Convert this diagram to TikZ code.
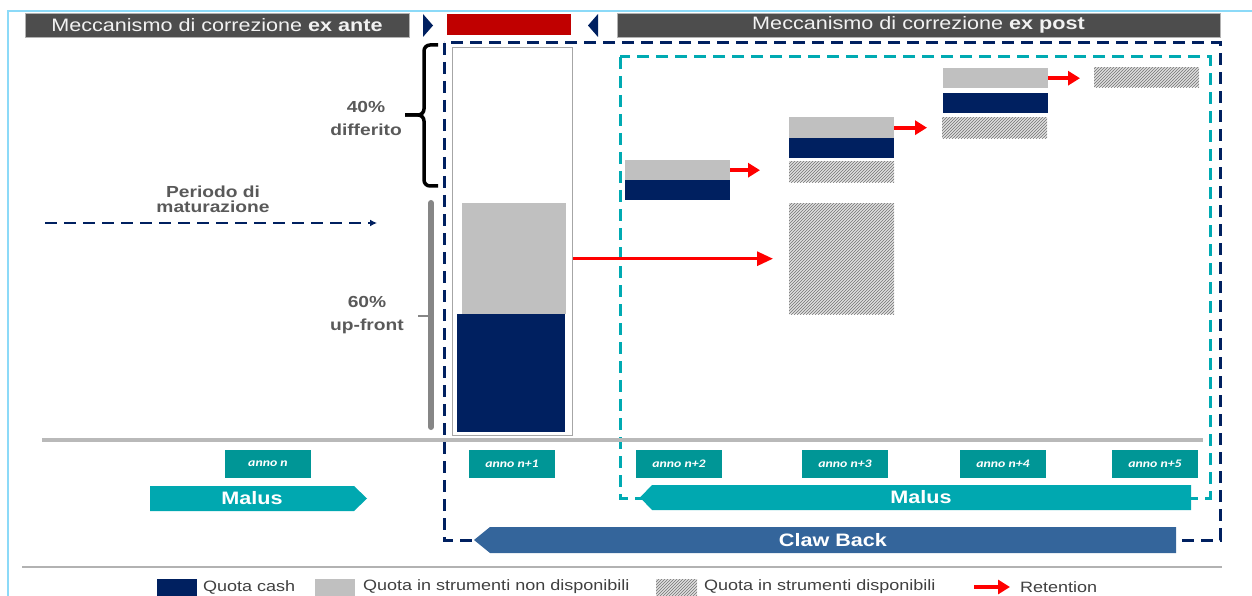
\documentclass[tikz,border=0pt]{standalone}
\usepackage{fontspec}
\setmainfont{Liberation Sans}[FakeStretch=1.2]
\newfontfamily\annofont{Carlito}[FakeStretch=1.2]
\usetikzlibrary{arrows.meta,patterns}

\definecolor{blunotte}{RGB}{0,32,96}
\definecolor{grigioq}{RGB}{192,192,192}
\definecolor{grigiotestata}{RGB}{77,77,77}
\definecolor{rosso}{RGB}{192,0,0}
\definecolor{ciano}{RGB}{0,170,178}
\definecolor{malusfill}{RGB}{0,168,176}
\definecolor{verdeanno}{RGB}{0,150,150}
\definecolor{clawfill}{RGB}{52,101,155}
\definecolor{testo}{RGB}{89,89,89}

\tikzset{
  testata/.style={fill=grigiotestata, draw=gray!60, text=white!95!black, inner sep=0pt,
    minimum height=24pt, font=\fontsize{18}{20}\selectfont},
  blocco/.style={rectangle, inner sep=0pt, anchor=north west, minimum width=105pt, minimum height=20pt},
  cash/.style={blocco, fill=blunotte},
  nondisp/.style={blocco, fill=grigioq},
  disp/.style={blocco, fill=gray!25, postaction={pattern=north east lines, pattern color=black!55}},
  retention/.style={draw=red, line width=4pt, -{Triangle[length=12pt,width=14pt]}},
  anno/.style={fill=verdeanno, text=white, inner sep=0pt, minimum width=86pt, minimum height=28pt,
    font=\annofont\bfseries\itshape\fontsize{11.5}{13}\selectfont},
  etichetta/.style={text=testo, font=\bfseries\fontsize{16}{23}\selectfont, align=center},
  banda/.style={text=white, font=\bfseries\fontsize{18}{20}\selectfont},
  legenda/.style={text=black!75, font=\fontsize{15}{17}\selectfont, anchor=west, inner sep=0pt},
  cornice/.style={line width=3pt, dash pattern=on 12pt off 7pt}
}

\begin{document}
\begin{tikzpicture}[x=1pt, y=-1pt]
  \useasboundingbox (0,0) rectangle (1252,596);
  \clip (0,0) rectangle (1252,596);
  % bordo
  \draw[cyan!45, line width=1.5pt] (8,600) -- (8,11) -- (1256,11);
  % testate
  \node[testata, minimum width=384pt] (exante) at (217,25) {Meccanismo di correzione \textbf{ex ante}};
  \node[testata, minimum width=603pt] (expost) at (918.5,25) {Meccanismo di correzione \textbf{ex post}};
  \fill[blunotte] (423,14) -- (433,25.5) -- (423,37) -- cycle;
  \fill[blunotte] (598,14) -- (588,25.5) -- (598,37) -- cycle;
  \node[fill=rosso, inner sep=0pt, minimum width=124pt, minimum height=21pt] (rosso) at (509,24.5) {};

  % cornici tratteggiate
  \draw[cornice, blunotte] (444,43) rectangle (1220,540);
  \draw[cornice, ciano] (620,57) rectangle (1210,498);

  % parentesi e barra
  \draw[line width=3.5pt, rounded corners=6pt] (438,45) -- (424,45) -- (424,115) -- (405,115);
  \draw[line width=3.5pt, rounded corners=6pt] (438,186) -- (424,186) -- (424,115) -- (405,115);
  \draw[gray!95, line width=6pt, line cap=round] (431,203) -- (431,427);
  \draw[gray!95, line width=2pt] (418,316) -- (431,316);
  \node[etichetta] (differito) at (366,118.5) {40\%\\differito};
  \node[etichetta] (upfront) at (367,315.5) {60\%\\up-front};
  \node[etichetta, font=\bfseries\fontsize{16}{15}\selectfont] (periodo) at (213,199.5) {Periodo di\\maturazione};
  \coordinate (inizio) at (45,223);
  \coordinate (fine) at (377,223);
  \draw[blunotte, line width=2pt, dash pattern=on 12pt off 7pt, -{Latex[length=7pt,width=7pt]}] (inizio) -- (fine);

  % anno n+1
  \node[blocco, draw=gray!70, fill=white, line width=1pt, minimum width=120pt, minimum height=388pt] (colonna) at (452,47) {};
  \node[nondisp, minimum width=104pt, minimum height=111pt] (g1) at (462,203) {};
  \node[cash, minimum width=108pt, minimum height=118pt] (c1) at (457,314) {};

  % anni successivi
  \node[disp, minimum height=111pt] (hbig) at (789,203) {};
  \node[nondisp] (g2) at (625,160) {};
  \node[cash] (c2) at (625,180) {};
  \node[nondisp, minimum height=21pt] (g3) at (789,117) {};
  \node[cash] (c3) at (789,138) {};
  \node[disp, minimum height=21pt] (h3) at (789,161) {};
  \node[nondisp] (g4) at (943,68) {};
  \node[cash] (c4) at (943,93) {};
  \node[disp, minimum height=21pt] (h4) at (942,117) {};
  \node[disp] (h5) at (1094,67) {};

  % retention
  \draw[retention, line width=3pt, -{Triangle[length=16pt,width=14pt]}, shorten >=16pt] (hbig.west -| colonna.east) -- (hbig.west);
  \draw[retention, shorten >=29pt] (g2.east) -- (g2.east -| h3.west);
  \draw[retention, shorten >=15pt] (g3.east) -- (g3.east -| h4.west);
  \draw[retention, shorten >=14pt] (g4.east) -- (g4.east -| h5.west);

  % asse
  \draw[gray!55, line width=4pt] (42,440) -- (1203,440);
  \foreach \x/\t [count=\i] in {268/n, 512/n+1, 679/n+2, 845/n+3, 1003/n+4, 1155/n+5}
    \node[anno] (anno\i) at (\x,464) {anno \t};

  % malus e claw back
  \fill[malusfill] (150,486) -- (354,486) -- (367,498.5) -- (354,511) -- (150,511) -- cycle;
  \node[banda] (malusante) at (252,498.5) {Malus};
  \fill[malusfill] (652,485) -- (1191,485) -- (1191,510) -- (652,510) -- (640,497.5) -- cycle;
  \node[banda] (maluspost) at (921,497.5) {Malus};
  \fill[clawfill] (490,527) -- (1176,527) -- (1176,553) -- (490,553) -- (474,540) -- cycle;
  \node[banda] (claw) at (833,540) {Claw Back};

  % legenda
  \draw[gray!60, line width=1.5pt] (22,567) -- (1222,567);
  \fill[blunotte] (157,579) rectangle (197,600);
  \node[legenda] (legcash) at (203,587) {Quota cash};
  \fill[grigioq] (315,579) rectangle (355,600);
  \node[legenda] (legnondisp) at (363,587) {Quota in strumenti non disponibili};
  \node[disp, minimum width=41pt, minimum height=21pt] (legh) at (656,579) {};
  \node[legenda] (legdisp) at (704,587) {Quota in strumenti disponibili};
  \node[legenda] (legret) at (1020,587) {Retention};
  \draw[retention] ([xshift=-46pt]legret.west) -- ([xshift=-10pt]legret.west);
\end{tikzpicture}
\end{document}
